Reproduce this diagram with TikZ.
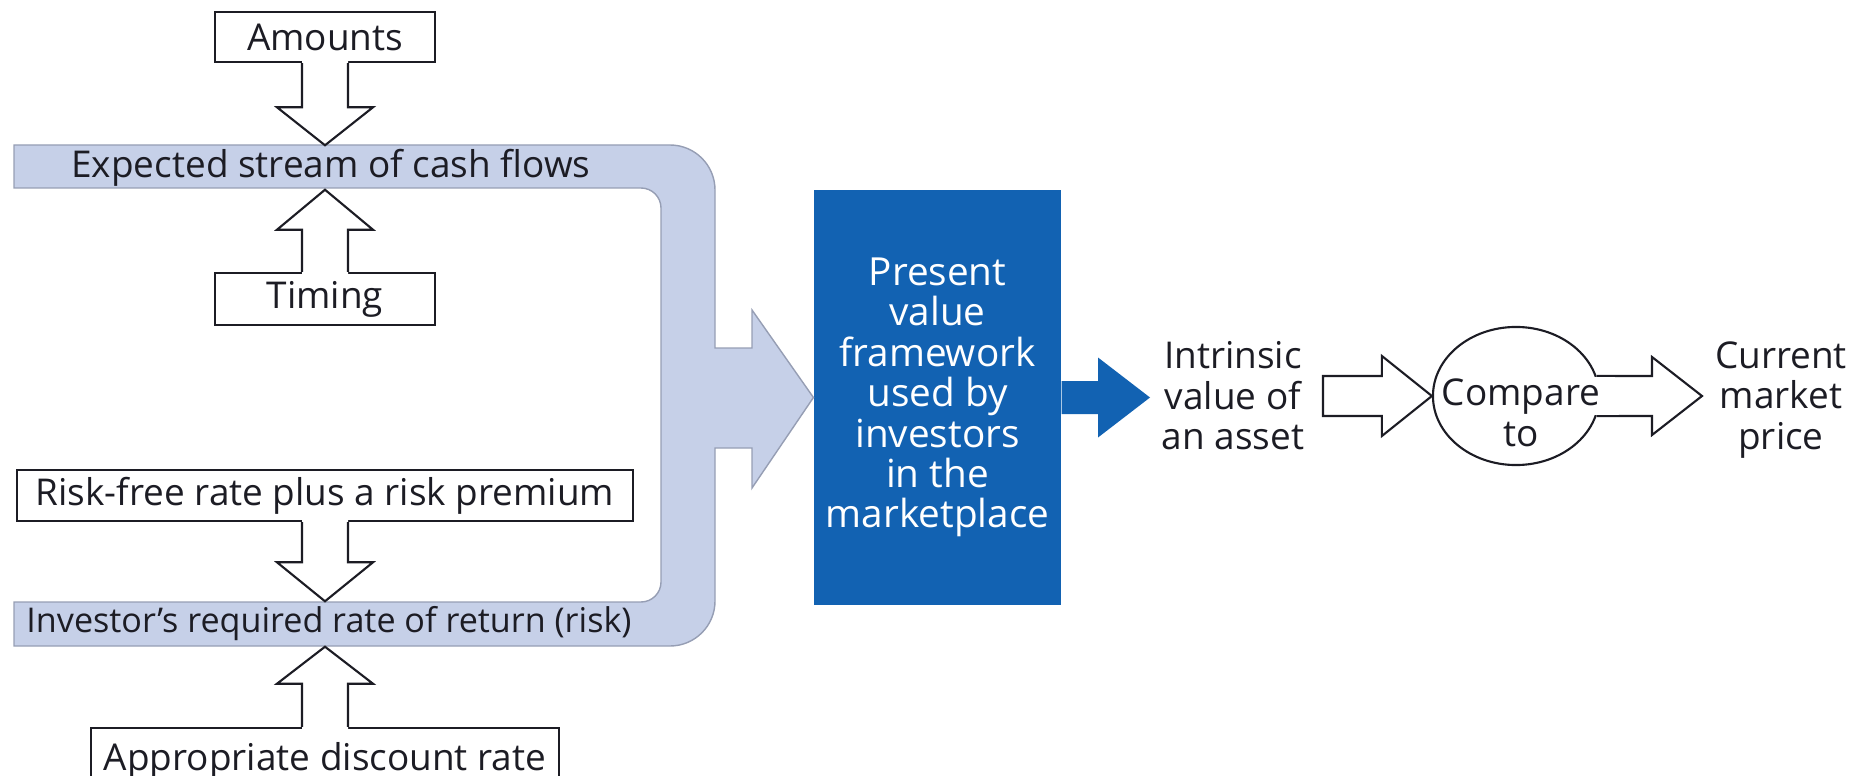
\documentclass[tikz,border=0pt]{standalone}
\usepackage{fontspec}
\setmainfont{Open Sans}
\usepackage{tikz}
\usetikzlibrary{shapes,positioning,calc}

\definecolor{bandfill}{RGB}{198,208,232}
\definecolor{bandline}{RGB}{150,158,180}
\definecolor{pvblue}{RGB}{18,98,178}
\definecolor{ink}{RGB}{28,28,36}

% hollow block arrow: base, tip, signed head length (pointing back to the base)
\newcommand{\fatarrow}[3]{%
  \fill[white] ($(#1)+(-23,#3/19.5)$) -- ($(#2)+(-23,#3)$) -- ($(#2)+(-48,#3)$) -- (#2)
    -- ($(#2)+(48,#3)$) -- ($(#2)+(23,#3)$) -- ($(#1)+(23,#3/19.5)$) -- cycle;
  \draw[hollow] ($(#1)+(-23,0)$) -- ($(#2)+(-23,#3)$) -- ($(#2)+(-48,#3)$) -- (#2)
    -- ($(#2)+(48,#3)$) -- ($(#2)+(23,#3)$) -- ($(#1)+(23,0)$);
}

\begin{document}
\begin{tikzpicture}[
    x=0.01cm, y=-0.01cm,
    font=\fontsize{10.5}{12}\selectfont, text=ink,
    box/.style={draw=ink, line width=0.6pt, fill=white, inner sep=0pt},
    hollow/.style={draw=ink, line width=0.6pt, line join=miter},
    bandtext/.style={inner sep=0pt, minimum height=0.43cm},
    side/.style={align=center, inner sep=0pt, font=\fontsize{10.5}{11.5}\selectfont}
]
    \clip (0,0) rectangle (1870,776);

    \node [fill=pvblue, text=white, minimum width=2.43cm, minimum height=4.15cm, align=center,
           font=\fontsize{11}{11.5}\selectfont] (pv) at (937.5,397.5)
          {Present\\value\\framework\\used by\\investors\\in the\\marketplace};

    % light band with the feed arrow into the framework
    \draw [fill=bandfill, draw=bandline, line width=0.4pt]
        (14,145) -- (670,145) arc[start angle=-90, end angle=0, radius=45]
        -- (715,348) -- (752,348) -- (752,310) -- (pv.west) -- (752,488) -- (752,448) -- (715,448)
        -- (715,601) arc[start angle=0, end angle=90, radius=45]
        -- (14,646) -- (14,602) -- (641,602) arc[start angle=90, end angle=0, radius=20]
        -- (661,208) arc[start angle=0, end angle=-90, radius=20]
        -- (14,188) -- cycle;

    \node [bandtext] (cash) at (331,167.5) {Expected stream of cash flows};
    \node [bandtext, minimum height=0.44cm, font=\fontsize{9.7}{12}\selectfont] (investor) at (329,624) {Investor's required rate of return (risk)};

    \node [box, minimum width=2.2cm, minimum height=0.5cm] (amounts) at (325,37) {Amounts};
    \node [box, minimum width=2.2cm, minimum height=0.52cm] (timing) at (325,299) {\raisebox{-2pt}{Timing}};
    \node [box, minimum width=6.15cm, minimum height=0.51cm] (riskfree) at (325,495.5) {Risk-free rate plus a risk premium};
    \node [box, minimum width=4.68cm, minimum height=0.66cm] (discount) at (325,761) {Appropriate discount rate};

    \coordinate (amountstip) at (amounts.south |- cash.north);
    \coordinate (timingtip) at (timing.north |- cash.south);
    \coordinate (risktip) at (riskfree.south |- investor.north);
    \coordinate (discounttip) at (discount.north |- investor.south);

    \fatarrow{amounts.south}{amountstip}{-38}
    \fatarrow{timing.north}{timingtip}{40}
    \fatarrow{riskfree.south}{risktip}{-39}
    \fatarrow{discount.north}{discounttip}{37}

    % output side
    \coordinate (pvtip) at (1150,397.5);
    \fill [pvblue] ($(pv.east)+(0,-16.5)$) -- ($(pvtip)+(-52,-16.5)$) -- ($(pvtip)+(-52,-40)$) -- (pvtip)
        -- ($(pvtip)+(-52,40)$) -- ($(pvtip)+(-52,16.5)$) -- ($(pv.east)+(0,16.5)$) -- cycle;

    \node [side] (intrinsic) at (1233,396) {Intrinsic\\value of\\an asset};

    \node [draw=ink, line width=0.6pt, ellipse, minimum width=1.66cm, minimum height=1.38cm, inner sep=0pt]
          (compare) at (1516,396) {};

    \coordinate (intrinsictail) at (1323,396);
    \draw [hollow, fill=white] ($(intrinsictail)+(0,-20)$) -- ($(compare.west)+(-50,-20)$) -- ($(compare.west)+(-50,-40)$)
        -- (compare.west) -- ($(compare.west)+(-50,40)$) -- ($(compare.west)+(-50,20)$) -- ($(intrinsictail)+(0,20)$) -- cycle;

    \coordinate (pricetip) at (1702,396);
    \fill [white] ($(compare.center)+(60,-19)$) -- ($(pricetip)+(-50,-19)$) -- ($(pricetip)+(-50,19)$) -- ($(compare.center)+(60,19)$) -- cycle;
    \draw [hollow, fill=white] (compare.14) -- ($(pricetip)+(-50,-20)$) -- ($(pricetip)+(-50,-39)$) -- (pricetip)
        -- ($(pricetip)+(-50,39)$) -- ($(pricetip)+(-50,20)$) -- (compare.-14);

    \node [side] (comparetext) at (1521,413) {Compare\\to};
    \node [side] (price) at (1781,400) {Current\\market\\price};

\end{tikzpicture}
\end{document}
